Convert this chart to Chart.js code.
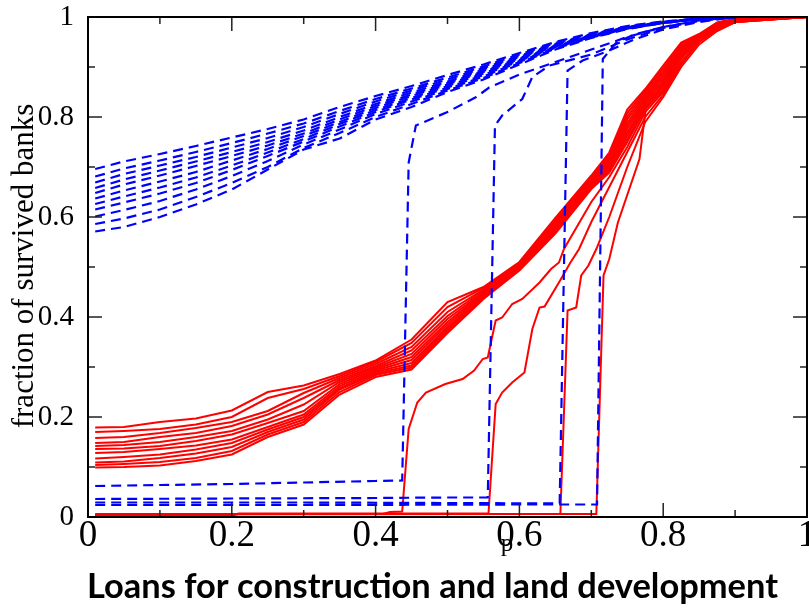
<!DOCTYPE html>
<html>
<head>
<meta charset="utf-8">
<script src="https://cdn.jsdelivr.net/npm/chart.js@4.4.1/dist/chart.umd.min.js"></script>
<style>
  html, body { margin: 0; padding: 0; background: #fff; }
  #wrap { width: 809px; height: 612px; position: relative; }
</style>
</head>
<body>
<div id="wrap"><canvas id="chart"></canvas></div>
<script>
const blueP = [0.01, 0.05, 0.1, 0.15, 0.2, 0.25, 0.3, 0.35, 0.4, 0.45, 0.5, 0.55, 0.6, 0.65, 0.7, 0.75, 0.8, 0.85, 0.9];
const redP = [0.01, 0.05, 0.1, 0.15, 0.2, 0.25, 0.3, 0.35, 0.4, 0.45, 0.5, 0.55, 0.6, 0.65, 0.7, 0.725, 0.75, 0.775, 0.8, 0.825, 0.85, 0.875, 0.9, 1];

// blue dashed curves (upper bundle)
const blue1 = [0.696,0.711,0.726,0.742,0.759,0.776,0.795,0.820,0.842,0.862,0.884,0.905,0.928,0.950,0.968,0.982,0.991,0.997,1];
const blue2 = [0.681,0.697,0.713,0.730,0.748,0.767,0.787,0.812,0.836,0.857,0.879,0.901,0.925,0.948,0.966,0.981,0.990,0.997,1];
const blue3 = [0.669,0.686,0.703,0.720,0.739,0.758,0.780,0.806,0.831,0.853,0.875,0.898,0.922,0.946,0.965,0.980,0.990,0.997,1];
const blue4 = [0.658,0.675,0.693,0.711,0.730,0.750,0.773,0.800,0.826,0.849,0.871,0.895,0.920,0.944,0.964,0.980,0.990,0.997,1];
const blue5 = [0.648,0.665,0.683,0.702,0.722,0.743,0.767,0.795,0.822,0.845,0.868,0.892,0.918,0.943,0.963,0.979,0.989,0.996,1];
const blue6 = [0.637,0.653,0.671,0.690,0.713,0.736,0.762,0.790,0.818,0.842,0.865,0.890,0.916,0.942,0.962,0.979,0.989,0.996,1];
const blue7 = [0.626,0.641,0.659,0.679,0.703,0.729,0.756,0.786,0.814,0.838,0.862,0.887,0.914,0.941,0.962,0.978,0.989,0.996,1];
const blue8 = [0.615,0.629,0.647,0.668,0.694,0.722,0.751,0.781,0.810,0.835,0.859,0.884,0.912,0.940,0.961,0.978,0.989,0.996,1];
const blue9 = [0.601,0.614,0.632,0.655,0.682,0.712,0.745,0.775,0.806,0.831,0.856,0.881,0.910,0.939,0.960,0.977,0.988,0.996,1];
const blue10 = [0.586,0.597,0.615,0.640,0.668,0.700,0.738,0.768,0.800,0.826,0.853,0.878,0.908,0.937,0.959,0.977,0.988,0.996,1];
const blue11 = [0.571,0.580,0.600,0.625,0.655,0.695,0.735,0.757,0.795,0.820,0.850,0.875,0.905,0.935,0.958,0.976,0.988,0.996,1];

// blue dashed curves that start near zero and jump: [p, fraction]
const blueJump1 = [[0.01,0.062],[0.1,0.064],[0.2,0.066],[0.3,0.069],[0.4,0.072],[0.437,0.073],[0.446,0.709],[0.456,0.783],[0.5,0.81],[0.54,0.84],[0.558,0.859],[0.6,0.885],[0.65,0.91],[0.7,0.935],[0.75,0.96],[0.8,0.98],[0.85,0.993],[0.9,1]];
const blueJump2 = [[0.01,0.036],[0.2,0.037],[0.4,0.038],[0.5,0.039],[0.556,0.039],[0.566,0.783],[0.576,0.803],[0.604,0.836],[0.618,0.88],[0.642,0.903],[0.7,0.925],[0.75,0.955],[0.8,0.978],[0.85,0.992],[0.9,1]];
const blueJump3 = [[0.01,0.029],[0.3,0.029],[0.5,0.028],[0.656,0.027],[0.667,0.893],[0.688,0.913],[0.72,0.93],[0.76,0.955],[0.8,0.975],[0.85,0.99],[0.9,1]];
const blueJump4 = [[0.01,0.024],[0.3,0.024],[0.6,0.025],[0.708,0.025],[0.716,0.916],[0.735,0.949],[0.76,0.965],[0.8,0.98],[0.85,0.992],[0.9,1]];

// red solid curves (lower bundle)
const red1 = [0.179,0.180,0.190,0.197,0.213,0.250,0.263,0.286,0.313,0.355,0.430,0.460,0.510,0.598,0.683,0.729,0.815,0.856,0.903,0.949,0.966,0.989,0.997,1];
const red2 = [0.170,0.172,0.176,0.185,0.200,0.238,0.256,0.282,0.310,0.348,0.420,0.458,0.508,0.595,0.680,0.725,0.808,0.852,0.898,0.946,0.965,0.988,0.996,1];
const red3 = [0.158,0.160,0.168,0.178,0.190,0.212,0.248,0.278,0.306,0.340,0.410,0.455,0.507,0.592,0.678,0.721,0.801,0.848,0.893,0.942,0.964,0.986,0.996,1];
const red4 = [0.148,0.150,0.160,0.168,0.182,0.205,0.238,0.274,0.302,0.333,0.402,0.453,0.505,0.589,0.675,0.717,0.795,0.844,0.888,0.939,0.963,0.985,0.995,1];
const red5 = [0.142,0.144,0.150,0.160,0.172,0.195,0.225,0.270,0.299,0.326,0.396,0.450,0.503,0.586,0.672,0.713,0.788,0.840,0.883,0.936,0.962,0.984,0.994,1];
const red6 = [0.136,0.137,0.142,0.152,0.165,0.188,0.212,0.266,0.296,0.320,0.390,0.448,0.502,0.583,0.670,0.709,0.782,0.836,0.878,0.932,0.961,0.983,0.994,1];
const red7 = [0.128,0.130,0.136,0.143,0.155,0.180,0.205,0.262,0.293,0.314,0.385,0.446,0.500,0.579,0.667,0.705,0.776,0.832,0.873,0.929,0.960,0.981,0.993,1];
const red8 = [0.117,0.120,0.125,0.135,0.148,0.175,0.200,0.258,0.290,0.308,0.380,0.443,0.498,0.576,0.664,0.701,0.769,0.828,0.868,0.926,0.959,0.980,0.992,1];
const red9 = [0.109,0.111,0.118,0.127,0.140,0.170,0.195,0.255,0.287,0.303,0.376,0.441,0.497,0.573,0.662,0.697,0.763,0.824,0.863,0.922,0.958,0.979,0.992,1];
const red10 = [0.104,0.106,0.110,0.118,0.132,0.165,0.190,0.250,0.284,0.299,0.372,0.438,0.495,0.570,0.659,0.693,0.756,0.820,0.858,0.919,0.957,0.977,0.991,1];
const red11 = [0.099,0.100,0.103,0.112,0.125,0.160,0.185,0.245,0.280,0.295,0.368,0.436,0.493,0.567,0.656,0.689,0.750,0.816,0.853,0.916,0.956,0.976,0.990,1];

// red solid curves that start near zero and jump: [p, fraction]
const redJump1 = [[0.01,0.003],[0.2,0.003],[0.21,0.006],[0.41,0.006],[0.42,0.010],[0.437,0.011],[0.446,0.176],[0.458,0.229],[0.47,0.249],[0.497,0.266],[0.521,0.276],[0.537,0.293],[0.549,0.316],[0.556,0.319],[0.567,0.393],[0.576,0.399],[0.59,0.426],[0.604,0.436],[0.628,0.469],[0.644,0.496],[0.655,0.509],[0.662,0.536],[0.7,0.63],[0.725,0.68],[0.75,0.74],[0.775,0.81],[0.8,0.85],[0.825,0.91],[0.85,0.952],[0.875,0.975],[0.9,0.99],[1,1]];
const redJump2 = [[0.01,0.004],[0.2,0.004],[0.21,0.007],[0.557,0.007],[0.567,0.226],[0.576,0.249],[0.59,0.269],[0.607,0.289],[0.618,0.376],[0.628,0.419],[0.635,0.421],[0.655,0.469],[0.671,0.509],[0.683,0.536],[0.7,0.59],[0.725,0.66],[0.75,0.73],[0.775,0.80],[0.8,0.845],[0.825,0.905],[0.85,0.95],[0.875,0.973],[0.9,0.99],[1,1]];
const redJump3 = [[0.01,0.005],[0.65,0.006],[0.657,0.006],[0.667,0.413],[0.679,0.419],[0.686,0.483],[0.696,0.503],[0.707,0.536],[0.725,0.60],[0.75,0.70],[0.775,0.79],[0.8,0.84],[0.825,0.90],[0.85,0.945],[0.875,0.972],[0.9,0.99],[1,1]];
const redJump4 = [[0.01,0.006],[0.707,0.006],[0.717,0.483],[0.725,0.516],[0.737,0.589],[0.767,0.716],[0.776,0.819],[0.793,0.849],[0.814,0.909],[0.834,0.949],[0.86,0.97],[0.88,0.987],[0.9,0.997],[1,1]];

const yTitle = 'fraction of survived banks';
const xTitle = 'p';
const chartTitle = 'Loans for construction and land development';

function onGrid(grid, vals) {
    return grid.map(function (p, i) { return [p, vals[i]]; });
}

let datasets = [];
[blue1, blue2, blue3, blue4, blue5, blue6, blue7, blue8, blue9, blue10, blue11].forEach(function (v) {
    datasets.push({ data: onGrid(blueP, v), dash: true });
});
[blueJump1, blueJump2, blueJump3, blueJump4].forEach(function (v) {
    datasets.push({ data: v, dash: true });
});
[red1, red2, red3, red4, red5, red6, red7, red8, red9, red10, red11].forEach(function (v) {
    datasets.push({ data: onGrid(redP, v), dash: false });
});
[redJump1, redJump2, redJump3, redJump4].forEach(function (v) {
    datasets.push({ data: v, dash: false });
});
datasets = datasets.map(function (d) {
    return {
        data: d.data,
        borderColor: d.dash ? '#0000ff' : '#ff0000',
        borderWidth: d.dash ? 2.2 : 2,
        borderDash: d.dash ? [10, 6] : [],
        pointRadius: 0,
        tension: 0,
        fill: false,
        order: d.dash ? 0 : 1,
    };
});

function tickText(v) {
    return String(Math.round(v * 10) / 10);
}

// keep the plot box where it is, whatever the label overhang
function noPad(s) {
    s.paddingLeft = 0;
    s.paddingRight = 0;
    s.paddingTop = 0;
    s.paddingBottom = 0;
}

// inside ticks, frame and the texts
const decor = {
    id: 'decor',
    afterDraw: function (chart) {
        const ctx = chart.ctx;
        const a = chart.chartArea;
        const x = chart.scales.x, y = chart.scales.y;
        ctx.save();
        ctx.strokeStyle = '#222';
        ctx.lineWidth = 1.5;
        for (let i = 0; i <= 10; i++) {
            const len = i % 2 === 0 ? 14 : 7;
            const px = x.getPixelForValue(i / 10);
            const py = y.getPixelForValue(i / 10);
            ctx.beginPath();
            ctx.moveTo(px, a.bottom); ctx.lineTo(px, a.bottom - len);
            ctx.moveTo(px, a.top); ctx.lineTo(px, a.top + len);
            ctx.moveTo(a.left, py); ctx.lineTo(a.left + len, py);
            ctx.moveTo(a.right, py); ctx.lineTo(a.right - len, py);
            ctx.stroke();
        }
        ctx.strokeStyle = '#000';
        ctx.lineWidth = 2;
        ctx.strokeRect(a.left, a.top, a.right - a.left, a.bottom - a.top);

        ctx.fillStyle = '#000';
        ctx.textBaseline = 'alphabetic';
        ctx.textAlign = 'center';
        ctx.font = '25px "Liberation Serif"';
        ctx.fillText(xTitle, 507, 551);

        ctx.save();
        ctx.translate(33, 266);
        ctx.rotate(-Math.PI / 2);
        ctx.font = '31px "Liberation Serif"';
        ctx.fillText(yTitle, 0, 0, 333);
        ctx.restore();

        ctx.textAlign = 'left';
        ctx.font = 'bold 34.5px Lato';
        ctx.fillText(chartTitle, 87, 598, 691);
        ctx.restore();
    }
};

new Chart(document.getElementById('chart'), {
    type: 'line',
    data: { datasets: datasets },
    plugins: [decor],
    options: {
        responsive: true,
        maintainAspectRatio: false,
        animation: false,
        layout: {
            autoPadding: false,
            padding: { top: 17, right: 2, left: 0, bottom: 0 }
        },
        plugins: {
            legend: { display: false },
            tooltip: { enabled: false },
            title: { display: false }
        },
        scales: {
            x: {
                type: 'linear',
                min: 0,
                max: 1,
                afterFit: function (s) { s.height = 95; noPad(s); },
                grid: { display: false },
                border: { display: false },
                ticks: {
                    stepSize: 0.2,
                    color: '#000',
                    padding: -11,
                    maxRotation: 0,
                    callback: tickText,
                    font: { family: 'Liberation Serif', size: 37 }
                }
            },
            y: {
                type: 'linear',
                min: 0,
                max: 1,
                afterFit: function (s) { s.width = 88; noPad(s); },
                grid: { display: false },
                border: { display: false },
                ticks: {
                    stepSize: 0.2,
                    color: '#000',
                    padding: 6,
                    callback: tickText,
                    font: { family: 'Liberation Serif', size: 29 }
                }
            }
        }
    }
});
</script>
</body>
</html>
